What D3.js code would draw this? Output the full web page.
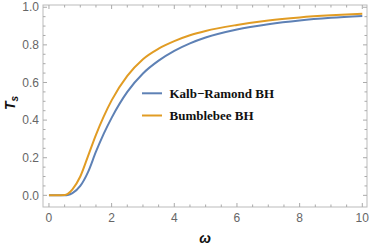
<!DOCTYPE html>
<html>
<head>
<meta charset="utf-8">
<title>Ts vs omega</title>
<style type="text/css">
body { margin: 0; background: #fff; }
svg text { font-family: "Liberation Sans", Arial, sans-serif; }
.tick-label { font-size: 12px; fill: #666; }
.legend-label { font-family: "Liberation Serif", "Times New Roman", serif; font-size: 13px; font-weight: bold; fill: #111; }
.axis-title { font-size: 14px; font-weight: bold; font-style: italic; fill: #111; }
</style>
</head>
<body>
<svg id="chart"></svg>

<script src="https://d3js.org/d3.v7.min.js"></script>
<script type="text/javascript">
const WIDTH = 374;
const HEIGHT = 247;

// data
const omega = [0, 0.25, 0.5, 0.6, 0.75, 1, 1.25, 1.5, 1.75, 2, 2.5, 3, 3.5, 4, 4.5, 5, 6, 7, 8, 9, 10];
const kalbRamond = [0, 0, 0, 0.002, 0.012, 0.05, 0.125, 0.232, 0.328, 0.412, 0.55, 0.648, 0.716, 0.768, 0.808, 0.839, 0.882, 0.91, 0.93, 0.944, 0.954];
const bumblebee = [0, 0, 0.002, 0.008, 0.032, 0.1, 0.21, 0.322, 0.42, 0.505, 0.635, 0.724, 0.78, 0.82, 0.851, 0.874, 0.906, 0.93, 0.946, 0.957, 0.965];
const seriesNames = ["Kalb\u2212Ramond BH", "Bumblebee BH"];
const seriesColors = ["#5E81B5", "#E19C24"];
const xTicks = [0, 2, 4, 6, 8, 10];
const yTicks = [0.0, 0.2, 0.4, 0.6, 0.8, 1.0];

const frame = {left: 43, right: 367, top: 5, bottom: 207};

const x = d3.scaleLinear().domain([-0.19, 10.15]).range([frame.left, frame.right]);
const y = d3.scaleLinear().domain([-0.062, 1.012]).range([frame.bottom, frame.top]);

const svg = d3.select("#chart")
    .attr("width", WIDTH)
    .attr("height", HEIGHT)
    .attr("viewBox", [0, 0, WIDTH, HEIGHT]);

// frame
svg.append("rect")
    .attr("x", frame.left).attr("y", frame.top)
    .attr("width", frame.right - frame.left)
    .attr("height", frame.bottom - frame.top)
    .attr("fill", "none")
    .attr("stroke", "#bbb")
    .attr("stroke-width", 1);

// ticks pointing inward, on all four sides
const xMinor = d3.range(0, 10.01, 0.5);
const yMinor = d3.range(0, 1.001, 0.05);
const tickColor = "#aaa";

xMinor.forEach(v => {
    const major = Math.abs(v / 2 - Math.round(v / 2)) < 1e-6;
    const len = major ? 4 : 2.5;
    svg.append("line").attr("x1", x(v)).attr("x2", x(v))
        .attr("y1", frame.bottom).attr("y2", frame.bottom - len)
        .attr("stroke", tickColor);
    svg.append("line").attr("x1", x(v)).attr("x2", x(v))
        .attr("y1", frame.top).attr("y2", frame.top + len)
        .attr("stroke", tickColor);
});
yMinor.forEach(v => {
    const major = Math.abs(v / 0.2 - Math.round(v / 0.2)) < 1e-6;
    const len = major ? 4 : 2.5;
    svg.append("line").attr("y1", y(v)).attr("y2", y(v))
        .attr("x1", frame.left).attr("x2", frame.left + len)
        .attr("stroke", tickColor);
    svg.append("line").attr("y1", y(v)).attr("y2", y(v))
        .attr("x1", frame.right).attr("x2", frame.right - len)
        .attr("stroke", tickColor);
});

// tick labels
svg.selectAll(".xlab").data(xTicks).join("text")
    .attr("class", "tick-label")
    .attr("x", d => x(d))
    .attr("y", 222)
    .attr("text-anchor", "middle")
    .text(d => d);
svg.selectAll(".ylab").data(yTicks).join("text")
    .attr("class", "tick-label")
    .attr("x", 39)
    .attr("y", d => y(d) + 4.2)
    .attr("text-anchor", "end")
    .text(d => d.toFixed(1));

// curves
svg.append("clipPath").attr("id", "clip")
    .append("rect")
    .attr("x", frame.left).attr("y", frame.top)
    .attr("width", frame.right - frame.left)
    .attr("height", frame.bottom - frame.top);

const line = d3.line()
    .x(d => x(d[0]))
    .y(d => y(d[1]))
    .curve(d3.curveMonotoneX);

[kalbRamond, bumblebee].forEach((vals, i) => {
    svg.append("path")
        .datum(omega.map((w, j) => [w, vals[j]]))
        .attr("clip-path", "url(#clip)")
        .attr("fill", "none")
        .attr("stroke", seriesColors[i])
        .attr("stroke-width", 2)
        .attr("stroke-linejoin", "round")
        .attr("d", line);
});

// legend
const legendY = [93.3, 115.5];
seriesNames.forEach((name, i) => {
    svg.append("line")
        .attr("x1", 142).attr("x2", 162)
        .attr("y1", legendY[i]).attr("y2", legendY[i])
        .attr("stroke", seriesColors[i])
        .attr("stroke-width", 2);
    svg.append("text")
        .attr("class", "legend-label")
        .attr("x", 169.5)
        .attr("y", legendY[i] + 4.5)
        .text(name);
});

// axis titles
svg.append("text")
    .attr("class", "axis-title")
    .attr("transform", "translate(15,103) rotate(-90)")
    .attr("text-anchor", "middle")
    .html('T<tspan dy="3" font-size="10">s</tspan>');
svg.append("text")
    .attr("class", "axis-title")
    .attr("x", 205)
    .attr("y", 243)
    .attr("text-anchor", "middle")
    .text("\u03c9");
</script>
</body>
</html>
